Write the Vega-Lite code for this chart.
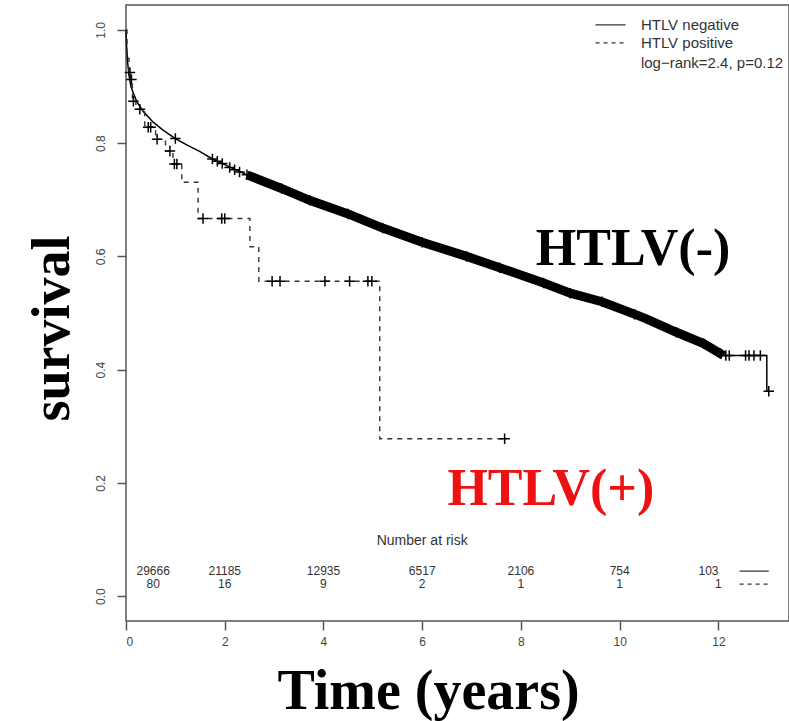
{
  "$schema": "https://vega.github.io/schema/vega-lite/v6.json",
  "autosize": "none",
  "width": 663,
  "height": 616,
  "padding": {"left": 126, "top": 5, "right": 0, "bottom": 100},
  "background": "white",
  "config": {
    "view": {"stroke": "#555", "strokeWidth": 1.5},
    "axis": {"grid": false, "domain": false, "tickColor": "#555", "tickWidth": 1.5, "tickSize": 9,
             "labelFont": "Liberation Sans", "labelFontSize": 12, "labelColor": "#444",
             "titleFont": "Liberation Serif", "titleFontWeight": "bold", "titleColor": "black"}
  },
  "datasets": {
    "neg": [
      {"t": 0, "s": 1.0}, {"t": 0.01, "s": 0.975}, {"t": 0.03, "s": 0.945}, {"t": 0.06, "s": 0.92},
      {"t": 0.1, "s": 0.9}, {"t": 0.15, "s": 0.888}, {"t": 0.22, "s": 0.873}, {"t": 0.35, "s": 0.856},
      {"t": 0.55, "s": 0.837}, {"t": 0.75, "s": 0.823}, {"t": 1.0, "s": 0.808}, {"t": 1.25, "s": 0.796},
      {"t": 1.5, "s": 0.785}, {"t": 1.75, "s": 0.772}, {"t": 2.0, "s": 0.762}, {"t": 2.45, "s": 0.744},
      {"t": 3.15, "s": 0.72}, {"t": 3.72, "s": 0.699}, {"t": 4.5, "s": 0.675}, {"t": 5.2, "s": 0.65},
      {"t": 6.0, "s": 0.625}, {"t": 6.9, "s": 0.6}, {"t": 7.57, "s": 0.58}, {"t": 8.46, "s": 0.553},
      {"t": 9.0, "s": 0.535}, {"t": 9.64, "s": 0.52}, {"t": 10.3, "s": 0.498}, {"t": 10.53, "s": 0.49},
      {"t": 11.15, "s": 0.466}, {"t": 11.7, "s": 0.446}, {"t": 12.1, "s": 0.425}, {"t": 12.98, "s": 0.425},
      {"t": 12.981, "s": 0.362}, {"t": 13.02, "s": 0.362}
    ],
    "pos": [
      {"t": 0, "s": 1.0}, {"t": 0.02, "s": 0.95}, {"t": 0.06, "s": 0.925}, {"t": 0.1, "s": 0.9125},
      {"t": 0.13, "s": 0.874}, {"t": 0.2, "s": 0.86}, {"t": 0.38, "s": 0.828}, {"t": 0.6, "s": 0.807},
      {"t": 0.8, "s": 0.786}, {"t": 0.95, "s": 0.763}, {"t": 1.13, "s": 0.731}, {"t": 1.46, "s": 0.667},
      {"t": 2.51, "s": 0.617}, {"t": 2.69, "s": 0.556}, {"t": 5.14, "s": 0.278}, {"t": 7.67, "s": 0.278}
    ],
    "cens": [
      {"t": 0.08, "s": 0.925}, {"t": 0.11, "s": 0.9125}, {"t": 0.15, "s": 0.874}, {"t": 0.28, "s": 0.86},
      {"t": 0.45, "s": 0.828}, {"t": 0.5, "s": 0.828}, {"t": 0.63, "s": 0.807}, {"t": 0.89, "s": 0.786},
      {"t": 0.98, "s": 0.763}, {"t": 1.03, "s": 0.763}, {"t": 1.56, "s": 0.667}, {"t": 1.94, "s": 0.667},
      {"t": 2.0, "s": 0.667}, {"t": 2.96, "s": 0.556}, {"t": 3.12, "s": 0.556}, {"t": 4.03, "s": 0.556},
      {"t": 4.53, "s": 0.556}, {"t": 4.9, "s": 0.556}, {"t": 4.98, "s": 0.556}, {"t": 7.67, "s": 0.278},
      {"t": 1.0, "s": 0.808}, {"t": 1.75, "s": 0.772}, {"t": 1.85, "s": 0.768}, {"t": 1.95, "s": 0.764},
      {"t": 2.1, "s": 0.757}, {"t": 2.2, "s": 0.753}, {"t": 2.3, "s": 0.749}, {"t": 2.45, "s": 0.744},
      {"t": 3.15, "s": 0.72}, {"t": 3.72, "s": 0.699}, {"t": 4.5, "s": 0.675}, {"t": 5.2, "s": 0.65},
      {"t": 6.0, "s": 0.625}, {"t": 6.9, "s": 0.6}, {"t": 7.57, "s": 0.58}, {"t": 8.46, "s": 0.553},
      {"t": 9.0, "s": 0.535}, {"t": 9.64, "s": 0.52}, {"t": 10.3, "s": 0.498}, {"t": 11.15, "s": 0.466},
      {"t": 11.7, "s": 0.446}, {"t": 12.05, "s": 0.428}, {"t": 12.15, "s": 0.425}, {"t": 12.22, "s": 0.425},
      {"t": 12.55, "s": 0.425}, {"t": 12.62, "s": 0.425}, {"t": 12.72, "s": 0.425}, {"t": 12.85, "s": 0.425},
      {"t": 13.02, "s": 0.362}
    ],
    "riskTitle": [
      {"t": 6.0, "s": 0.097, "label": "Number at risk"}
    ],
    "risk": [
      {"t": 0.55, "s": 0.044, "label": "29666"}, {"t": 2, "s": 0.044, "label": "21185"},
      {"t": 4, "s": 0.044, "label": "12935"}, {"t": 6, "s": 0.044, "label": "6517"},
      {"t": 8, "s": 0.044, "label": "2106"}, {"t": 10, "s": 0.044, "label": "754"},
      {"t": 11.8, "s": 0.044, "label": "103"},
      {"t": 0.55, "s": 0.021, "label": "80"}, {"t": 2, "s": 0.021, "label": "16"},
      {"t": 4, "s": 0.021, "label": "9"}, {"t": 6, "s": 0.021, "label": "2"},
      {"t": 8, "s": 0.021, "label": "1"}, {"t": 10, "s": 0.021, "label": "1"},
      {"t": 12.0, "s": 0.021, "label": "1"}
    ],
    "keys": [
      {"grp": "HTLV negative", "t": 9.51, "t2": 10.12, "s": 1.009},
      {"grp": "HTLV positive", "t": 9.51, "t2": 10.12, "s": 0.977},
      {"grp": "HTLV negative", "t": 12.43, "t2": 13.02, "s": 0.044},
      {"grp": "HTLV positive", "t": 12.43, "t2": 13.02, "s": 0.021}
    ],
    "legendText": [
      {"t": 10.43, "s": 1.009, "label": "HTLV negative"},
      {"t": 10.43, "s": 0.977, "label": "HTLV positive"},
      {"t": 10.43, "s": 0.942, "label": "log\u2212rank=2.4, p=0.12"}
    ],
    "big": [
      {"t": 8.3, "s": 0.585, "label": "HTLV(-)", "grp": "neg"},
      {"t": 6.51, "s": 0.161, "label": "HTLV(+)", "grp": "pos"}
    ]
  },
  "encoding": {
    "x": {"field": "t", "type": "quantitative",
          "scale": {"domain": [0, 13.43], "nice": false, "zero": false},
          "axis": {"values": [0, 2, 4, 6, 8, 10, 12], "labelPadding": 6, "title": "Time (years)",
                   "titleFontSize": 56, "titleX": 302, "titleY": 87, "titleBaseline": "alphabetic", "titleAlign": "center"}},
    "y": {"field": "s", "type": "quantitative",
          "scale": {"domain": [-0.044, 1.044], "nice": false, "zero": false},
          "axis": {"values": [0, 0.2, 0.4, 0.6, 0.8, 1.0], "format": ".1f", "labelAngle": -90,
                   "labelAlign": "center", "labelBaseline": "alphabetic", "labelPadding": 13,
                   "title": "survival", "titleFontSize": 54, "titleAngle": -90, "titleX": -58, "titleY": 323,
                   "titleBaseline": "alphabetic", "titleAlign": "center"}}
  },
  "layer": [
    {"data": {"name": "neg"}, "mark": {"type": "line", "color": "black", "strokeWidth": 1.5}},
    {"data": {"name": "neg"}, "transform": [{"filter": "datum.t >= 2.3 && datum.t <= 12.1"}],
     "mark": {"type": "line", "color": "black", "strokeWidth": 9, "strokeCap": "butt"}},
    {"data": {"name": "pos"}, "mark": {"type": "line", "interpolate": "step-after", "color": "#333", "strokeWidth": 1.4, "strokeDash": [5, 5]}},
    {"data": {"name": "cens"}, "mark": {"type": "point", "shape": "M-1,0L1,0M0,-1L0,1", "filled": false, "size": 110, "color": "black", "strokeWidth": 1.5, "opacity": 1}},
    {"data": {"name": "keys"}, "mark": {"type": "rule", "color": "#333", "strokeWidth": 1.3},
     "encoding": {"x2": {"field": "t2"},
                  "strokeDash": {"field": "grp", "type": "nominal", "legend": null,
                                 "scale": {"domain": ["HTLV negative", "HTLV positive"], "range": [[1, 0], [4, 4]]}}}},
    {"data": {"name": "legendText"}, "mark": {"type": "text", "align": "left", "baseline": "middle", "font": "Liberation Sans", "fontSize": 15, "color": "#333"},
     "encoding": {"text": {"field": "label"}}},
    {"data": {"name": "riskTitle"}, "mark": {"type": "text", "align": "center", "baseline": "middle", "font": "Liberation Sans", "fontSize": 14, "color": "#333"},
     "encoding": {"text": {"field": "label"}}},
    {"data": {"name": "risk"}, "mark": {"type": "text", "align": "center", "baseline": "middle", "font": "Liberation Sans", "fontSize": 12, "color": "#333"},
     "encoding": {"text": {"field": "label"}}},
    {"data": {"name": "big"}, "mark": {"type": "text", "align": "left", "baseline": "alphabetic", "font": "Liberation Serif", "fontWeight": "bold", "fontSize": 52},
     "encoding": {"text": {"field": "label"},
                  "color": {"field": "grp", "type": "nominal", "legend": null,
                            "scale": {"domain": ["neg", "pos"], "range": ["black", "#ee1111"]}}}}
  ]
}
